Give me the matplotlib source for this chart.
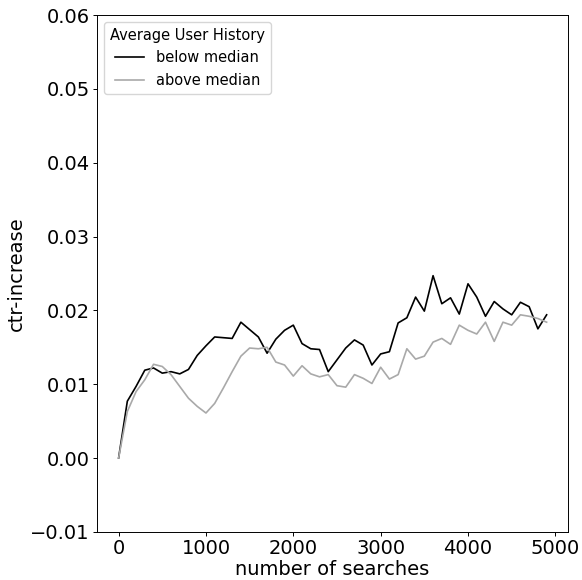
import matplotlib
matplotlib.use("Agg")
import matplotlib.pyplot as plt
import numpy as np

searches = np.arange(0, 5000, 100)

below_median = [0.0, 0.0077, 0.0097, 0.0119, 0.0122, 0.0115, 0.0117, 0.0114, 0.0120, 0.0139,
                0.0152, 0.0164, 0.0163, 0.0162, 0.0184, 0.0174, 0.0164, 0.0142, 0.0161, 0.0173,
                0.0180, 0.0155, 0.0148, 0.0147, 0.0117, 0.0133, 0.0149, 0.0160, 0.0153, 0.0126,
                0.0141, 0.0144, 0.0183, 0.0190, 0.0218, 0.0199, 0.0247, 0.0209, 0.0217, 0.0195,
                0.0236, 0.0218, 0.0192, 0.0212, 0.0202, 0.0194, 0.0211, 0.0205, 0.0175, 0.0194]

above_median = [0.0, 0.0063, 0.0090, 0.0106, 0.0127, 0.0124, 0.0113, 0.0097, 0.0081, 0.0070,
                0.0061, 0.0074, 0.0095, 0.0117, 0.0138, 0.0149, 0.0148, 0.0150, 0.0130, 0.0126,
                0.0111, 0.0125, 0.0114, 0.0110, 0.0113, 0.0098, 0.0096, 0.0113, 0.0108, 0.0101,
                0.0123, 0.0107, 0.0113, 0.0148, 0.0134, 0.0138, 0.0157, 0.0162, 0.0154, 0.0180,
                0.0173, 0.0168, 0.0184, 0.0158, 0.0184, 0.0180, 0.0194, 0.0192, 0.0189, 0.0184]

fig = plt.figure(figsize=(5.82, 5.80), dpi=100)
ax = fig.add_axes([0.167, 0.083, 0.809, 0.891])

ax.plot(searches, below_median, color="black", lw=1.2, label="below median")
ax.plot(searches, above_median, color="darkgray", lw=1.2, label="above median")

ax.set_ylim(-0.01, 0.06)
ax.set_xlabel("number of searches", fontsize=14, labelpad=1)
ax.set_ylabel("ctr-increase", fontsize=14, labelpad=3)
ax.tick_params(labelsize=14, length=2.8, width=0.7, pad=2.5)
for s in ax.spines.values():
    s.set_linewidth(0.7)
ax.legend(title="Average User History", loc="upper left", fontsize=10.5, title_fontsize=10.5)

fig.savefig("out.png", dpi=100)
